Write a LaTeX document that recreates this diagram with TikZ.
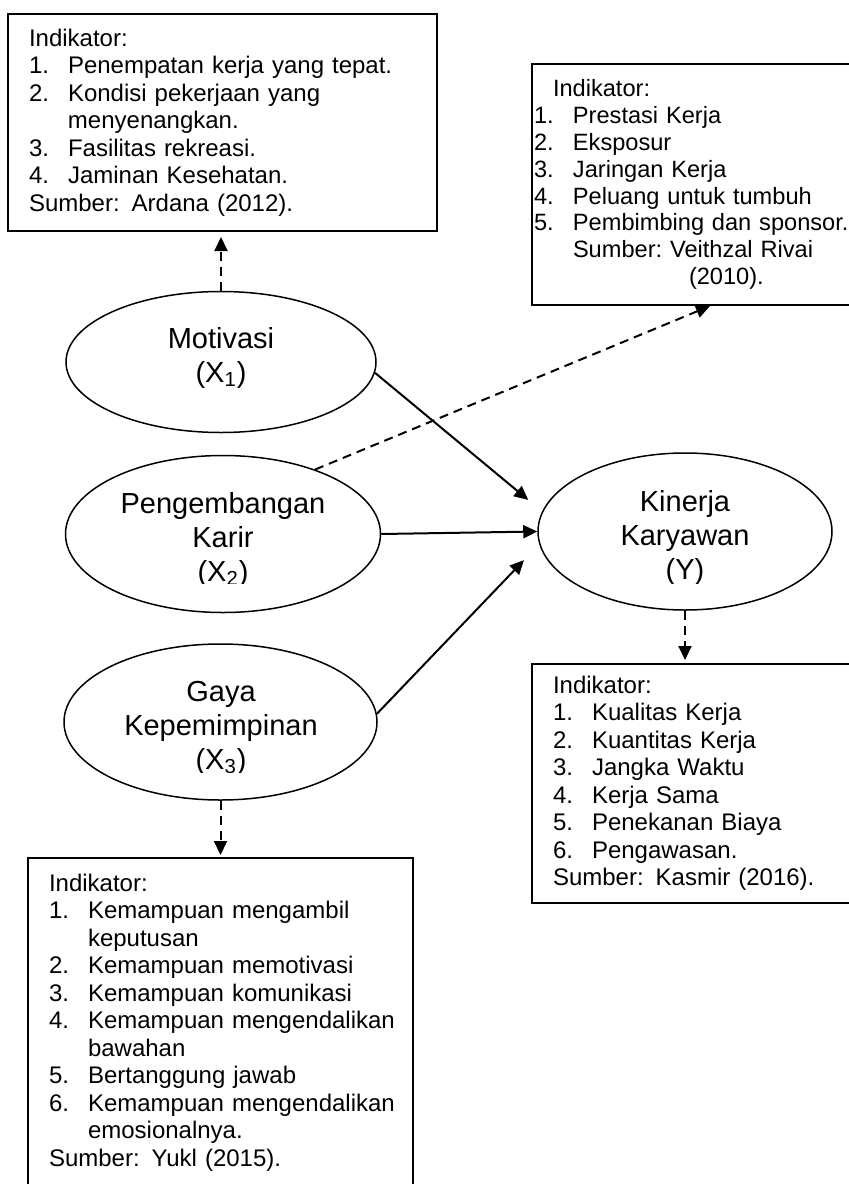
\documentclass[tikz,border=0pt]{standalone}
\usepackage{fontspec}
\setmainfont{Liberation Sans}
\usetikzlibrary{shapes.geometric}
\usetikzlibrary{arrows.meta}

\newcommand{\itm}[2]{\mbox{\makebox[19.5pt][l]{#1.}#2}}
\newcommand{\cont}[1]{\mbox{\hspace*{19.5pt}#1}}

\begin{document}
\begin{tikzpicture}[x=0.5pt, y=-0.5pt, >={Triangle[length=7pt,width=6.5pt]},
    latent/.style={draw, shape=ellipse, line width=0.75pt, inner sep=0pt},
    latentlbl/.style={align=center, inner sep=0pt, font=\fontsize{14.5}{17}\selectfont},
    indbox/.style={draw, line width=1pt, anchor=north west, align=left, inner xsep=10.5pt, inner ysep=0pt, font=\fontsize{12}{13.75}\selectfont},
    arr/.style={->, line width=1pt},
    darr/.style={->, line width=1pt, dash pattern=on 4.5pt off 3pt}]
      \useasboundingbox (0,0) rectangle (849,1184);
      \clip (0,0) rectangle (849,1184);

      \node[indbox, text width=193.5pt, minimum height=108.5pt] (indX1) at (7,13) {Indikator:\\ \itm{1}{Penempatan kerja yang tepat.}\\ \itm{2}{Kondisi pekerjaan yang}\\ \cont{menyenangkan.}\\ \itm{3}{Fasilitas rekreasi.}\\ \itm{4}{Jaminan Kesehatan.}\\ Sumber: Ardana (2012).};
      \node[indbox, inner xsep=1pt, text width=176pt, minimum height=120.5pt, font=\fontsize{11.8}{13.45}\selectfont] (indX2) at (531,63) {\mbox{\hspace*{9.5pt}Indikator:}\\ \itm{1}{Prestasi Kerja}\\ \itm{2}{Eksposur}\\ \itm{3}{Jaringan Kerja}\\ \itm{4}{Peluang untuk tumbuh}\\ \itm{5}{Pembimbing dan sponsor.}\\ \cont{Sumber:\ Veithzal Rivai}\\ \mbox{\hspace*{77.5pt}(2010).}};
      \node[indbox, text width=157pt, minimum height=119.5pt] (indY) at (531,663) {Indikator:\\ \itm{1}{Kualitas Kerja}\\ \itm{2}{Kuantitas Kerja}\\ \itm{3}{Jangka Waktu}\\ \itm{4}{Kerja Sama}\\ \itm{5}{Penekanan Biaya}\\ \itm{6}{Pengawasan.}\\ Sumber: Kasmir (2016).};
      \node[indbox, text width=171.5pt, minimum height=164.5pt] (indX3) at (27,857) {Indikator:\\ \itm{1}{Kemampuan mengambil}\\ \cont{keputusan}\\ \itm{2}{Kemampuan memotivasi}\\ \itm{3}{Kemampuan komunikasi}\\ \itm{4}{Kemampuan mengendalikan}\\ \cont{bawahan}\\ \itm{5}{Bertanggung jawab}\\ \itm{6}{Kemampuan mengendalikan}\\ \cont{emosionalnya.}\\ Sumber: Yukl (2015).};

      \node[latent, minimum width=155pt, minimum height=70.5pt] (X1) at (221,362) {};
      \node[latent, minimum width=157.5pt, minimum height=78.5pt] (X2) at (223,534) {};
      \node[latent, minimum width=156.5pt, minimum height=78pt] (X3) at (220.5,722) {};
      \node[latent, minimum width=147pt, minimum height=78.5pt] (Y) at (685,531.5) {};

      \node[latentlbl] (tX1) at (221,358) {Motivasi\\(X\textsubscript{1})};
      \begin{scope}
        \clip (0,0) rectangle (849,583);
        \node[latentlbl] (tX2) at (223,539.5) {Pengembangan\\Karir\\(X\textsubscript{2})};
        \node[latentlbl] (tY) at (685,537.5) {Kinerja\\Karyawan\\(Y)};
      \end{scope}
      \begin{scope}
        \clip (0,0) rectangle (849,772);
        \node[latentlbl] (tX3) at (221,728.5) {Gaya\\Kepemimpinan\\(X\textsubscript{3})};
      \end{scope}

      \draw[arr, shorten >=9pt] (X1.-4) -- (Y.172);
      \draw[arr] (X2.east) -- (Y.west);
      \draw[arr, shorten >=11pt] (X3.3) -- (Y.185);

      \draw[darr, shorten >=2.5pt] (X1.north) -- (X1.north |- indX1.south);
      \draw[darr] (X2.35) -- (indX2.south);
      \draw[darr, shorten >=1.5pt] (Y.south) -- (Y.south |- indY.north);
      \draw[darr, shorten >=1pt] (X3.south) -- (X3.south |- indX3.north);
\end{tikzpicture}
\end{document}
